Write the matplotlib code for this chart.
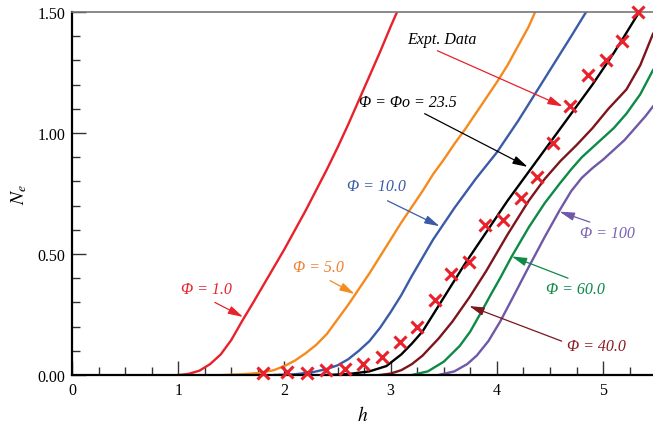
import matplotlib.pyplot as plt
from matplotlib.ticker import MultipleLocator

plt.rcParams['font.family'] = ['Liberation Serif', 'DejaVu Serif']
plt.rcParams['mathtext.fontset'] = 'stix'

# curves N_e(h) for each Phi
h_1 = [1.0, 1.05, 1.1, 1.2, 1.3, 1.4, 1.5, 1.6, 1.7, 1.8, 1.9, 2.0, 2.1, 2.2, 2.3,
       2.4, 2.5, 2.6, 2.7, 2.8, 2.9, 3.0, 3.06]
n_1 = [0.0, 0.002, 0.005, 0.018, 0.045, 0.085, 0.145, 0.222, 0.295, 0.37, 0.445, 0.52,
       0.60, 0.68, 0.765, 0.85, 0.94, 1.035, 1.135, 1.235, 1.335, 1.44, 1.5]

h_5 = [1.43, 1.6, 1.75, 1.9, 2.0, 2.1, 2.2, 2.3, 2.4, 2.5, 2.6, 2.7, 2.8, 2.9, 3.0,
       3.1, 3.2, 3.3, 3.4, 3.5, 3.6, 3.7, 3.8, 3.9, 4.0, 4.1, 4.2, 4.3, 4.36]
n_5 = [0.0, 0.003, 0.008, 0.02, 0.037, 0.06, 0.09, 0.125, 0.17, 0.23, 0.29, 0.355,
       0.42, 0.49, 0.56, 0.63, 0.695, 0.76, 0.83, 0.89, 0.955, 1.015, 1.08, 1.145,
       1.21, 1.28, 1.36, 1.44, 1.5]

h_10 = [1.9, 2.1, 2.27, 2.4, 2.5, 2.6, 2.7, 2.8, 2.9, 3.0, 3.1, 3.2, 3.3, 3.4, 3.5,
        3.6, 3.7, 3.8, 3.9, 4.0, 4.1, 4.2, 4.3, 4.4, 4.5, 4.6, 4.7, 4.84]
n_10 = [0.0, 0.003, 0.012, 0.025, 0.04, 0.065, 0.10, 0.14, 0.195, 0.26, 0.33, 0.41,
        0.485, 0.56, 0.625, 0.69, 0.75, 0.81, 0.865, 0.92, 0.985, 1.05, 1.12, 1.19,
        1.26, 1.33, 1.40, 1.5]

h_23 = [2.4, 2.6, 2.8, 2.96, 3.1, 3.2, 3.3, 3.4, 3.5, 3.6, 3.7, 3.8, 3.9, 4.0, 4.1,
        4.2, 4.3, 4.4, 4.5, 4.6, 4.7, 4.8, 4.9, 5.0, 5.1, 5.2, 5.34]
n_23 = [0.0, 0.004, 0.015, 0.037, 0.085, 0.13, 0.18, 0.25, 0.32, 0.39, 0.46, 0.525,
        0.59, 0.655, 0.72, 0.78, 0.84, 0.90, 0.96, 1.02, 1.08, 1.14, 1.2, 1.265,
        1.33, 1.40, 1.5]

h_40 = [2.9, 3.0, 3.1, 3.2, 3.3, 3.45, 3.58, 3.74, 3.9, 4.1, 4.3, 4.45, 4.6, 4.75,
        4.9, 5.05, 5.22, 5.35, 5.47]
n_40 = [0.0, 0.006, 0.02, 0.045, 0.08, 0.15, 0.22, 0.32, 0.43, 0.58, 0.72, 0.81,
        0.885, 0.95, 1.02, 1.1, 1.18, 1.28, 1.41]

h_60 = [3.2, 3.35, 3.5, 3.65, 3.75, 3.84, 3.94, 4.03, 4.14, 4.3, 4.45, 4.59, 4.7,
        4.8, 4.9, 5.0, 5.1, 5.22, 5.35, 5.47]
n_60 = [0.0, 0.015, 0.055, 0.12, 0.18, 0.25, 0.33, 0.40, 0.49, 0.61, 0.71, 0.79,
        0.85, 0.90, 0.94, 0.98, 1.02, 1.08, 1.16, 1.26]

h_100 = [3.45, 3.6, 3.72, 3.81, 3.92, 4.03, 4.15, 4.28, 4.45, 4.59, 4.7, 4.8, 4.9,
         5.0, 5.1, 5.2, 5.3, 5.4, 5.47]
n_100 = [0.0, 0.015, 0.045, 0.08, 0.14, 0.22, 0.32, 0.43, 0.57, 0.68, 0.76, 0.815,
         0.855, 0.89, 0.93, 0.97, 1.02, 1.07, 1.11]

# experimental data
h_exp = [1.80, 2.02, 2.21, 2.39, 2.57, 2.74, 2.92, 3.09, 3.25, 3.42, 3.57,
         3.74, 3.89, 4.06, 4.23, 4.38, 4.53, 4.69, 4.86, 5.03, 5.18, 5.33]
n_exp = [0.008, 0.012, 0.008, 0.021, 0.025, 0.045, 0.074, 0.136, 0.198, 0.31, 0.417,
         0.467, 0.62, 0.64, 0.73, 0.82, 0.96, 1.11, 1.24, 1.30, 1.38, 1.50]

c_red = '#e8212b'
c_orange = '#f58a1f'
c_blue = '#3b5aa8'
c_dred = '#7d151c'
c_green = '#0c8a46'
c_purple = '#6f58a8'

fig = plt.figure(figsize=(6.53, 4.31), dpi=100)
ax = fig.add_axes([0.1103, 0.1276, 0.8897, 0.8422])

lw = 1.7
ax.plot(h_1, n_1, color=c_red, lw=lw)
ax.plot(h_5, n_5, color=c_orange, lw=lw)
ax.plot(h_10, n_10, color=c_blue, lw=lw)
ax.plot(h_23, n_23, color='black', lw=lw)
ax.plot(h_40, n_40, color=c_dred, lw=lw)
ax.plot(h_60, n_60, color=c_green, lw=lw)
ax.plot(h_100, n_100, color=c_purple, lw=lw)
ax.plot(h_exp, n_exp, 'x', color=c_red, ms=9, mew=2.2, clip_on=False, zorder=5)

ax.set_xlim(0, 5.47)
ax.set_ylim(0, 1.5)
ax.xaxis.set_major_locator(MultipleLocator(1))
ax.xaxis.set_minor_locator(MultipleLocator(0.25))
ax.yaxis.set_major_locator(MultipleLocator(0.5))
ax.yaxis.set_minor_locator(MultipleLocator(0.1))
ax.set_yticklabels(['%.2f' % v for v in ax.get_yticks()])
ax.tick_params(which='both', direction='in', labelsize=11.5, width=1, color='#333333')
ax.tick_params(which='major', length=10, pad=5)
ax.tick_params(which='minor', length=5.5)

ax.spines['right'].set_visible(False)
ax.spines['top'].set_color('#777777')
ax.spines['top'].set_linewidth(1.2)
ax.spines['left'].set_linewidth(1.6)
ax.spines['bottom'].set_linewidth(1.6)

ax.set_xlabel('$h$', fontsize=14, labelpad=5)
ax.set_ylabel('$N_e$', fontsize=14, labelpad=6)

def label(text, xy, color):
    ax.text(xy[0], xy[1], text, color=color, fontsize=11.5, style='italic',
            ha='center', va='center', clip_on=False)

def arrow(xy, xytext, color):
    ax.annotate('', xy=xy, xytext=xytext,
                arrowprops=dict(arrowstyle='-|>,head_length=0.9,head_width=0.25',
                                color=color, lw=0.9, shrinkA=0, shrinkB=0))

label('Φ = 1.0', (1.27, 0.355), c_red)
arrow((1.61, 0.24), (1.345, 0.30), c_red)
label('Φ = 5.0', (2.32, 0.445), '#f07f2e')
arrow((2.66, 0.335), (2.43, 0.39), c_orange)
label('Φ = 10.0', (2.87, 0.78), c_blue)
arrow((3.46, 0.615), (2.97, 0.72), c_blue)
label('Φ = Φo = 23.5', (3.16, 1.13), 'black')
arrow((4.29, 0.86), (3.32, 1.08), 'black')
label('Expt. Data', (3.48, 1.39), 'black')
arrow((4.62, 1.11), (3.44, 1.34), c_red)
label('Φ = 100', (5.04, 0.585), '#7a63b0')
arrow((4.59, 0.675), (4.875, 0.632), c_purple)
label('Φ = 60.0', (4.74, 0.355), c_green)
arrow((4.14, 0.49), (4.67, 0.40), c_green)
label('Φ = 40.0', (4.94, 0.12), '#8b1a22')
arrow((3.74, 0.285), (4.61, 0.14), c_dred)

fig.savefig('out.png', dpi=100)
